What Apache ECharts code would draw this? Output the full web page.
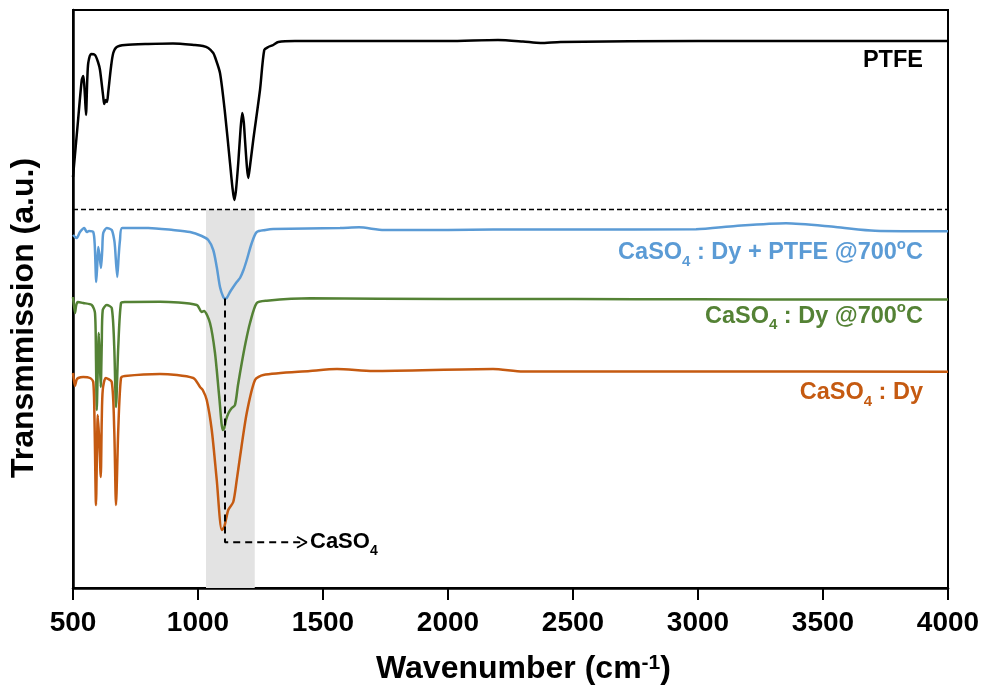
<!DOCTYPE html>
<html>
<head>
<meta charset="utf-8">
<script src="https://cdn.jsdelivr.net/npm/echarts@6/dist/echarts.min.js"></script>
<style>html,body{margin:0;padding:0;background:#fff}#c{width:989px;height:688px}</style>
</head>
<body>
<div id="c"></div>
<script>
// ---- data (wavenumber in cm-1, transmission in arbitrary offset units) ----
const xTicks = [500, 1000, 1500, 2000, 2500, 3000, 3500, 4000];

const ptfeWn = [500,520,535,541,545,548,552,557,561,572,588,600,608,621,625,631,636,641,652,661,675,708,800,900,988,1020,1041,1061,1068,1088,1108,1128,1138,1145,1152,1161,1170,1177,1183,1188,1196,1201,1207,1221,1248,1265,1281,1301,1321,1388,1700,2000,2200,2300,2370,2450,3000,3500,4000];
const ptfeT  = [411,467,508,512,503,491,473,508,525,534,533,526,518,491,484,488,486,496,521,535,541,543,544,544.5,543,542,540,535,531,515,475,425,400,388,398,425,458,475,466,448,420,410,420,448,498,538,541,543,546,547,547,547,548,546.5,545,546,547,547,547];

const blueWn = [500,508,515,528,545,550,555,564,581,587,593,597,601,606,612,617,621,635,655,665,668,677,683,688,697,801,900,968,1015,1041,1061,1075,1088,1101,1108,1115,1128,1141,1155,1168,1182,1195,1215,1235,1270,1301,1568,1644,1744,2000,2180,2500,2992,3150,3352,3550,3708,4000];
const blueT  = [353,351,350,356,360,358,356,357,356,343,306,323,341,333,320,338,355,360,358,348,341,311,333,348,360,360,358,356,352,348,338,321,301,291,289.5,290,296,301,306,310,318,328,345,356,358,359,360,360.7,358,358,358.5,358.5,358.7,362,364.7,361,357.3,356.7];

const greenWn = [500,508,513,519,541,575,588,592,595,599,603,607,611,615,619,635,655,665,672,681,692,708,848,995,1015,1024,1048,1068,1085,1099,1105,1112,1122,1135,1148,1160,1175,1190,1208,1235,1275,1448,2000,2500,3000,3500,4000];
const greenT  = [291,275,283,286,285,283,275,228,178,218,255,228,201,243,278,283,280,241,181,241,285,286,286.3,283,276,277,265,235,191,158,160,168,175,180,183,203,225,245,265,285,287.3,289.7,289,289,288.7,288.5,288.5];

const orangeWn = [500,508,514,521,541,568,581,586,592,596,599,605,611,615,619,631,655,665,672,681,692,708,848,981,1008,1019,1035,1055,1075,1095,1105,1121,1141,1155,1168,1195,1228,1261,1448,1556,1700,2180,2300,3000,4000];
const orangeT  = [215,202,208,210,211,210,206,168,83,138,173,148,111,168,198,210,206,158,83,158,210,212,214,210,201,198,188,158,108,58,61,78,86,108,131,175,208,213,217,219,217,219,216.5,216.5,216.3];

// annotations
const separatorY = 378.5;
const bandRange = [1032, 1227];
const peakWn = 1108;
const peakTop = 289.5;
const arrowY = 45.7;
const arrowTipWn = 1435;
const arrowBackWn = 1396;
const arrowSpread = 5.5;
const caso4LabelWn = 1448;

const labelWn = 3900;
const labels = [
  {name: 'PTFE', y: 527, color: '#000000'},
  {name: 'CaSO4 : Dy + PTFE @700oC', y: 335, color: '#5B9BD5'},
  {name: 'CaSO4 : Dy @700oC', y: 271.3, color: '#548235'},
  {name: 'CaSO4 : Dy', y: 195, color: '#C55A11'}
];
const labelFormats = [
  '{m|PTFE}',
  '{m|CaSO}{sub|4}{m| : Dy + PTFE @700}{sup|o}{m|C}',
  '{m|CaSO}{sub|4}{m| : Dy @700}{sup|o}{m|C}',
  '{m|CaSO}{sub|4}{m| : Dy}'
];

const FF = '"Liberation Sans", Arial, sans-serif';
const zip = (a, b) => a.map((v, i) => [v, b[i]]);

function richFor(color, size) {
  const s = Math.round(size * 0.65);
  return {
    m:   {fontFamily: FF, fontWeight: 'bold', fontSize: size, color: color, lineHeight: 32, opacity: 1},
    sub: {fontFamily: FF, fontWeight: 'bold', fontSize: s, color: color, lineHeight: 15, verticalAlign: 'bottom', opacity: 1},
    sup: {fontFamily: FF, fontWeight: 'bold', fontSize: s, color: color, lineHeight: 29, verticalAlign: 'top', opacity: 1}
  };
}

function curve(data, color) {
  return {
    type: 'line', data: data, showSymbol: false, symbol: 'none', smooth: 0.25, z: 3,
    lineStyle: {color: color, width: 2.5}, silent: true, animation: false
  };
}

function textPoint(pt, fmt, color, size, pos) {
  return {
    type: 'scatter', data: [pt], symbolSize: 0, z: 5, silent: true,
    itemStyle: {opacity: 1, color: color},
    label: {show: true, position: pos, distance: 0, opacity: 1, formatter: fmt, rich: richFor(color, size)}
  };
}

const series = [
  // grey band
  {
    type: 'line', data: [], z: 1, silent: true,
    markArea: {silent: true, itemStyle: {color: '#E3E3E3'},
      data: [[{xAxis: bandRange[0], yAxis: 0}, {xAxis: bandRange[1], yAxis: separatorY}]]}
  },
  // separator dashed line
  {
    type: 'line', data: [[500, separatorY], [4000, separatorY]], symbol: 'none', z: 2, silent: true,
    lineStyle: {color: '#000', width: 1.5, type: [5, 3]}
  },
  curve(zip(ptfeWn, ptfeT), '#000000'),
  curve(zip(blueWn, blueT), '#5B9BD5'),
  curve(zip(greenWn, greenT), '#548235'),
  curve(zip(orangeWn, orangeT), '#C55A11'),
  // vertical + horizontal dashed pointer
  {
    type: 'line', data: [[peakWn, peakTop], [peakWn, arrowY], [arrowTipWn, arrowY]], symbol: 'none', z: 4, silent: true,
    lineStyle: {color: '#000', width: 2, type: [7, 5]}
  },
  // chevron head
  {
    type: 'line', data: [[arrowBackWn, arrowY + arrowSpread], [arrowTipWn, arrowY], [arrowBackWn, arrowY - arrowSpread]], symbol: 'none', z: 4, silent: true,
    lineStyle: {color: '#000', width: 1.8}
  },
  textPoint([caso4LabelWn, arrowY], '{m|CaSO}{sub|4}', '#000000', 22, 'right')
];

labels.forEach((l, i) => {
  series.push(textPoint([labelWn, l.y], labelFormats[i], l.color, 23.5, 'left'));
});

const chart = echarts.init(document.getElementById('c'), null, {renderer: 'canvas'});
chart.setOption({
  animation: false,
  backgroundColor: '#fff',
  grid: {left: 73, right: 41, top: 10, bottom: 100, show: true, borderColor: '#000', borderWidth: 2,
    backgroundColor: 'transparent', containLabel: false, outerBoundsMode: 'none'},
  xAxis: {
    type: 'value', min: xTicks[0], max: xTicks[xTicks.length - 1], interval: 500,
    axisLine: {show: true, lineStyle: {color: '#000', width: 2.5}},
    axisTick: {show: true, inside: false, length: 12, lineStyle: {color: '#000', width: 2}},
    axisLabel: {color: '#000', fontFamily: FF, fontWeight: 'bold', fontSize: 28, margin: 21,
      formatter: v => String(v)},
    splitLine: {show: false},
    name: '{m|Wavenumber (cm}{sup|-1}{m|)}', nameLocation: 'middle', nameGap: 65,
    nameTextStyle: {padding: [0, 0, 0, 26], rich: richFor('#000', 32)}
  },
  yAxis: {
    type: 'value', min: 0, max: 578,
    axisLine: {show: true, lineStyle: {color: '#000', width: 2.5}},
    axisTick: {show: false}, axisLabel: {show: false}, splitLine: {show: false},
    name: 'Transmmission (a.u.)', nameLocation: 'middle', nameGap: 33,
    nameTextStyle: {color: '#000', fontFamily: FF, fontWeight: 'bold', fontSize: 32, padding: [0, 38, 0, 0]}
  },
  series: series
});
</script>
</body>
</html>
